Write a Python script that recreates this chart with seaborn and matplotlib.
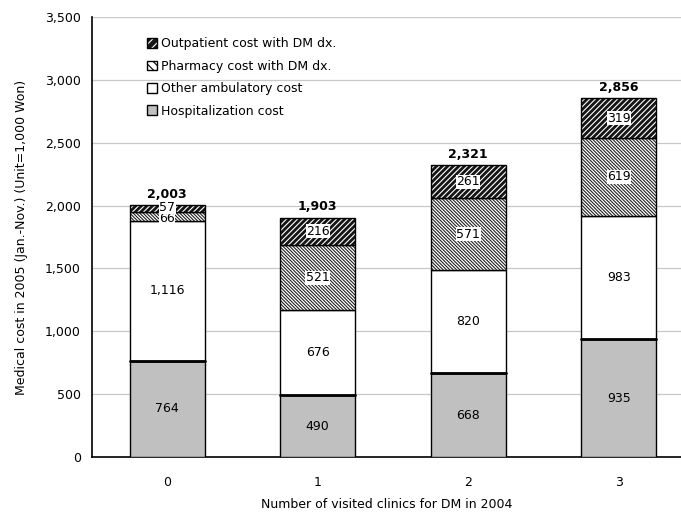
import matplotlib
matplotlib.use("Agg")
import matplotlib.pyplot as plt
import seaborn as sns
import pandas as pd
from matplotlib.patches import Patch
from matplotlib.legend_handler import HandlerTuple
from matplotlib.ticker import FuncFormatter, FixedLocator

sns.set_style("white")
plt.rcParams["font.family"] = ["DejaVu Sans"]
plt.rcParams["hatch.linewidth"] = 0.8
for key in ["text.color", "axes.labelcolor", "xtick.color", "ytick.color"]:
    plt.rcParams[key] = "black"

categories = ["0", "1", "2", "3"]
hospitalization = [764, 490, 668, 935]
other_ambulatory = [1116, 676, 820, 983]
pharmacy = [66, 521, 571, 619]
outpatient = [57, 216, 261, 319]
totals = [2003, 1903, 2321, 2856]

df = pd.DataFrame({
    "clinics": categories,
    "hosp": hospitalization,
    "other": other_ambulatory,
    "pharm": pharmacy,
    "outp": outpatient,
})
df["b_other"] = df["hosp"]
df["b_pharm"] = df["hosp"] + df["other"]
df["b_outp"] = df["b_pharm"] + df["pharm"]

fig = plt.figure(figsize=(6.81, 5.16), dpi=100)
ax = fig.add_axes([92 / 681, 1 - 457 / 516, 1 - 92 / 681, (457 - 17) / 516])

W = 0.5
common = dict(x="clinics", width=W, ax=ax, saturation=1, errorbar=None, zorder=3)
HATCH_PH = "\\" * 10
HATCH_OP = "/" * 6

sns.barplot(data=df, y="hosp", color="#c0c0c0", edgecolor="black", linewidth=1.0, **common)
sns.barplot(data=df, y="other", bottom=df["b_other"], color="white", edgecolor="black", linewidth=1.0, **common)
# pharmacy: white with dark back-slash hatch
sns.barplot(data=df, y="pharm", bottom=df["b_pharm"], color="white", edgecolor="#222222",
            hatch=HATCH_PH, linewidth=0, **common)
sns.barplot(data=df, y="pharm", bottom=df["b_pharm"], color="black", fill=False,
            edgecolor="black", linewidth=1.0, **common)
# outpatient: dark with light forward-slash hatch
sns.barplot(data=df, y="outp", bottom=df["b_outp"], color="#151515", edgecolor="white",
            hatch=HATCH_OP, linewidth=0, **common)
sns.barplot(data=df, y="outp", bottom=df["b_outp"], color="black", fill=False,
            edgecolor="black", linewidth=1.0, **common)

# thicker separator at top of hospitalization segment
for i, h in enumerate(hospitalization):
    ax.plot([i - W / 2, i + W / 2], [h, h], color="black", lw=2.0, zorder=4)

fs = 9
box = dict(facecolor="white", edgecolor="none", pad=0.3)
for i in range(len(categories)):
    ax.text(i, hospitalization[i] / 2, f"{hospitalization[i]:,}", ha="center", va="center", fontsize=fs, zorder=5)
    ax.text(i, df["b_other"][i] + other_ambulatory[i] / 2, f"{other_ambulatory[i]:,}",
            ha="center", va="center", fontsize=fs, zorder=5)
    ax.text(i, df["b_pharm"][i] + pharmacy[i] / 2 - (12 if i == 0 else 0), f"{pharmacy[i]:,}",
            ha="center", va="center", fontsize=fs, bbox=box, zorder=5)
    ax.text(i, df["b_outp"][i] + outpatient[i] / 2 + (10 if i == 0 else 0), f"{outpatient[i]:,}",
            ha="center", va="center", fontsize=fs, bbox=box, zorder=6)
    ax.text(i, totals[i] + 35, f"{totals[i]:,}", ha="center", va="bottom",
            fontsize=fs, fontweight="bold", zorder=5)

ax.set_ylim(0, 3500)
ax.set_xlim(-0.5, 3.5 - 13 / 150.7)
ax.yaxis.set_major_locator(FixedLocator(range(0, 3501, 500)))
ax.yaxis.set_major_formatter(FuncFormatter(lambda v, p: f"{int(v):,}"))
ax.set_xticks(range(4))
ax.set_xticklabels(categories)
ax.set_xticks([0.5, 1.5, 2.5], minor=True)
ax.tick_params(axis="x", which="major", length=0, pad=14, labelsize=fs)
ax.tick_params(axis="x", which="minor", direction="in", length=4, width=1, color="black")
ax.tick_params(axis="y", direction="in", length=5, width=1, color="black", labelsize=fs, pad=8)
ax.grid(axis="y", color="#c8c8c8", lw=0.9, zorder=0)
ax.set_axisbelow(True)
for s in ["top", "right"]:
    ax.spines[s].set_visible(False)
for s in ["left", "bottom"]:
    ax.spines[s].set_color("black")
    ax.spines[s].set_linewidth(1.2)

ax.set_ylabel("Medical cost in 2005 (Jan.-Nov.) (Unit=1,000 Won)", fontsize=fs, labelpad=12)
ax.set_xlabel("Number of visited clinics for DM in 2004", fontsize=fs, labelpad=6)

outp_handle = (
    Patch(facecolor="#151515", edgecolor="white", hatch="////", linewidth=0),
    Patch(fill=False, edgecolor="black"),
)
handles = [
    outp_handle,
    Patch(facecolor="white", edgecolor="black", hatch="\\\\\\\\"),
    Patch(facecolor="white", edgecolor="black"),
    Patch(facecolor="#c0c0c0", edgecolor="black"),
]
labels = [
    "Outpatient cost with DM dx.",
    "Pharmacy cost with DM dx.",
    "Other ambulatory cost",
    "Hospitalization cost",
]
leg = ax.legend(handles, labels, loc="upper left", bbox_to_anchor=(0.085, 0.965), frameon=False,
                fontsize=fs, handlelength=0.8, handleheight=0.8, handletextpad=0.3,
                labelspacing=0.75, borderaxespad=0,
                handler_map={tuple: HandlerTuple(ndivide=1, pad=0)})

fig.savefig("out.png", dpi=100)
